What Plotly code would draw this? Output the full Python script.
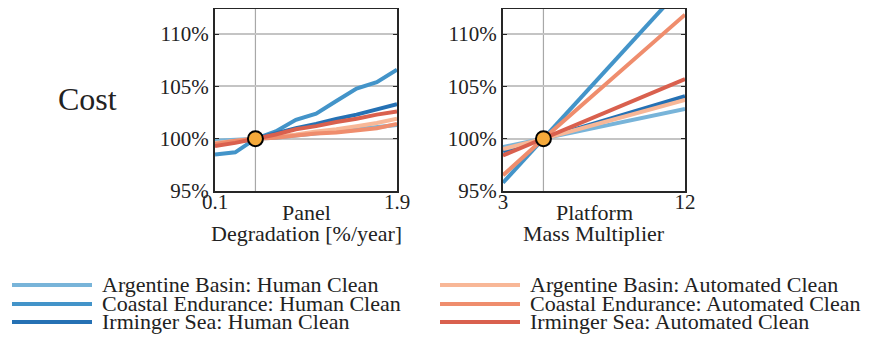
import plotly.graph_objects as go

# The page adds an 8px body margin, so the figure is sized to fit the window.
PAGE_OFF = 8
W, H = 888 - PAGE_OFF, 341 - PAGE_OFF

# ---------------- data ----------------
series_names = [
    "Argentine Basin: Human Clean",
    "Coastal Endurance: Human Clean",
    "Irminger Sea: Human Clean",
    "Argentine Basin: Automated Clean",
    "Coastal Endurance: Automated Clean",
    "Irminger Sea: Automated Clean",
]
series_colors = ["#78b4d9", "#4394c9", "#2571b4", "#f8b797", "#ef8d6d", "#d9604e"]

degradation_x = [0.1, 0.3, 0.5, 0.7, 0.9, 1.1, 1.3, 1.5, 1.7, 1.9]
deg_argentine_human = [99.8, 99.9, 100.0, 100.1, 100.3, 100.5, 100.7, 100.9, 101.1, 101.3]
deg_coastal_human = [98.5, 98.7, 100.0, 100.7, 101.8, 102.4, 103.6, 104.8, 105.4, 106.6]
deg_irminger_human = [99.4, 99.7, 100.0, 100.5, 101.0, 101.4, 101.9, 102.3, 102.8, 103.3]
deg_argentine_auto = [99.6, 99.8, 100.0, 100.2, 100.4, 100.7, 100.9, 101.2, 101.5, 101.9]
deg_coastal_auto = [99.5, 99.8, 100.0, 100.1, 100.3, 100.5, 100.6, 100.8, 101.0, 101.4]
deg_irminger_auto = [99.3, 99.6, 100.0, 100.4, 100.9, 101.2, 101.6, 101.9, 102.3, 102.6]

mass_x = [3, 5, 12]
mass_argentine_human = [99.2, 100.0, 102.85]
mass_coastal_human = [95.8, 100.0, 114.8]
mass_irminger_human = [98.8, 100.0, 104.07]
mass_argentine_auto = [99.0, 100.0, 103.7]
mass_coastal_auto = [96.5, 100.0, 111.86]
mass_irminger_auto = [98.4, 100.0, 105.7]

baseline_degradation = [0.5]
baseline_mass = [5]
baseline_cost = [100]

y_ticks = [95, 100, 105, 110]
y_tick_labels = ["95%", "100%", "105%", "110%"]
deg_ticks = [0.1, 1.9]
deg_tick_labels = ["0.1", "1.9"]
mass_ticks = [3, 12]
mass_tick_labels = ["3", "12"]

row_label = "Cost"
deg_title = ["Panel", "Degradation [%/year]"]
mass_title = ["Platform", "Mass Multiplier"]

deg_series = [deg_argentine_human, deg_coastal_human, deg_irminger_human,
              deg_argentine_auto, deg_coastal_auto, deg_irminger_auto]
mass_series = [mass_argentine_human, mass_coastal_human, mass_irminger_human,
               mass_argentine_auto, mass_coastal_auto, mass_irminger_auto]

# ---------------- figure ----------------
FONT = "Liberation Serif, DejaVu Serif, Noto Serif, serif"
FRAME = "#262626"
GRID = "#c4c4c4"
ORANGE = "#f5a93a"
TXT = "#222222"


def px(x):
    # x given in window pixels
    return min(1.0, max(0.0, (x - PAGE_OFF) / W))


def py(y):
    return min(1.0, max(0.0, 1 - (y - PAGE_OFF) / H))


fig = go.Figure()

for name, color, ys in zip(series_names, series_colors, deg_series):
    fig.add_trace(go.Scatter(x=degradation_x, y=ys, mode="lines", name=name,
                             line=dict(color=color, width=4), xaxis="x", yaxis="y",
                             showlegend=False))
for name, color, ys in zip(series_names, series_colors, mass_series):
    fig.add_trace(go.Scatter(x=mass_x, y=ys, mode="lines", name=name,
                             line=dict(color=color, width=4), xaxis="x2", yaxis="y2",
                             showlegend=False))

fig.add_trace(go.Scatter(x=baseline_degradation, y=baseline_cost, mode="markers",
                         marker=dict(size=15, color=ORANGE, line=dict(color="black", width=2)),
                         xaxis="x", yaxis="y", showlegend=False))
fig.add_trace(go.Scatter(x=baseline_mass, y=baseline_cost, mode="markers",
                         marker=dict(size=15, color=ORANGE, line=dict(color="black", width=2)),
                         xaxis="x2", yaxis="y2", showlegend=False))

# baseline vertical lines
for xref, yref, xv in (("x", "y domain", baseline_degradation[0]),
                       ("x2", "y2 domain", baseline_mass[0])):
    fig.add_shape(type="line", xref=xref, yref=yref, x0=xv, x1=xv, y0=0, y1=1,
                  line=dict(color="#a8a8a8", width=1.2), layer="below")

ydom = [py(191), py(9)]
common_y = dict(range=[95, 112.4], tickvals=y_ticks, ticktext=y_tick_labels,
                showgrid=True, gridcolor=GRID, gridwidth=1.6, zeroline=False,
                showline=True, linecolor=FRAME, linewidth=2, mirror="allticks",
                ticks="inside", ticklen=4, tickcolor=FRAME, tickwidth=1,
                tickfont=dict(family=FONT, size=21, color=TXT), domain=ydom)
common_x = dict(showgrid=False, zeroline=False, showline=True, linecolor=FRAME,
                linewidth=2, mirror=True, ticks="", ticklabelstandoff=-9,
                tickfont=dict(family=FONT, size=21, color=TXT))

fig.update_layout(
    width=W, height=H, margin=dict(l=0, r=0, t=0, b=0, autoexpand=False),
    paper_bgcolor="white", plot_bgcolor="white", showlegend=False,
    font=dict(family=FONT, color=TXT),
    xaxis=dict(range=[0.1, 1.9], tickvals=deg_ticks, ticktext=deg_tick_labels,
               domain=[px(215), px(397)], anchor="y", **common_x),
    xaxis2=dict(range=[3, 12], tickvals=mass_ticks, ticktext=mass_tick_labels,
                domain=[px(503), px(685)], anchor="y2", **common_x),
    yaxis=dict(anchor="x", **common_y),
    yaxis2=dict(anchor="x2", **common_y),
)

ann = []
ann.append(dict(text=row_label, x=px(87), y=py(99), xref="paper", yref="paper",
                xanchor="center", yanchor="middle", showarrow=False,
                font=dict(family=FONT, size=32, color=TXT)))
for cx, lines in ((306, deg_title), (594, mass_title)):
    for i, t in enumerate(lines):
        ann.append(dict(text=t, x=px(cx), y=py(212 + 21 * i), xref="paper", yref="paper",
                        xanchor="center", yanchor="middle", showarrow=False,
                        font=dict(family=FONT, size=22, color=TXT)))

# legend (two columns, three rows) built from series names/colours
legend_rows = [285, 304, 322]
legend_cols = [(12, 92, 100), (440, 520, 528)]
for k, (name, color) in enumerate(zip(series_names, series_colors)):
    col, row = divmod(k, 3)
    x0, x1, tx = legend_cols[col]
    yy = legend_rows[row]
    fig.add_shape(type="line", xref="paper", yref="paper", x0=px(x0), x1=px(x1),
                  y0=py(yy), y1=py(yy), line=dict(color=color, width=4))
    ann.append(dict(text=name, x=px(tx), y=py(yy - 0.5), xref="paper", yref="paper",
                    xanchor="left", yanchor="middle", showarrow=False,
                    font=dict(family=FONT, size=22, color=TXT)))

fig.update_layout(annotations=ann)

fig.write_html("out.html")
